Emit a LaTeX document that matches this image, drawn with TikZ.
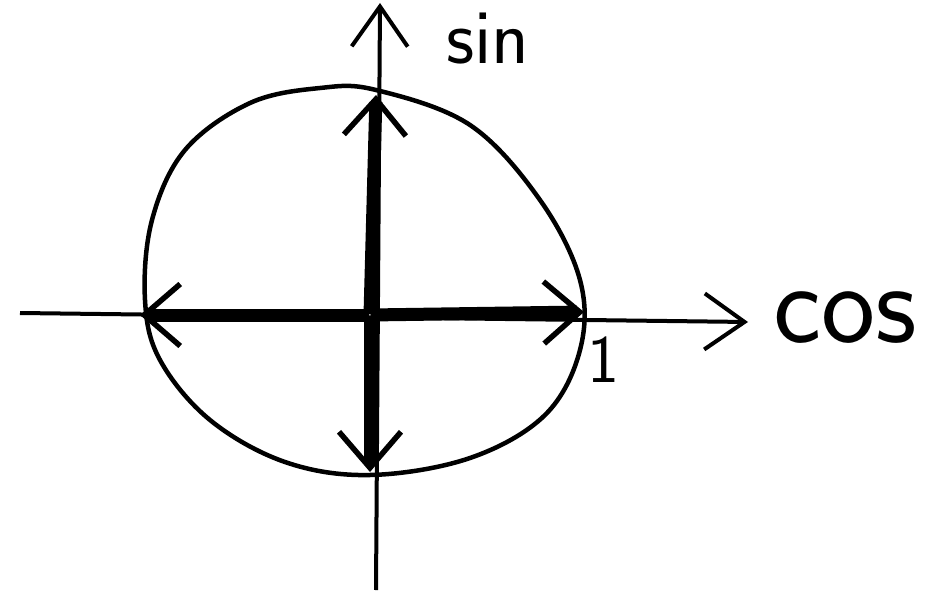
\documentclass[tikz,border=0pt]{standalone}
\usepackage{tikz}
\usetikzlibrary{arrows.meta}

\begin{document}
\begin{tikzpicture}[
    x=1pt, y=-1pt,
    axis/.style={line width=4pt, -{Straight Barb[length=40pt,width=56pt,line width=4pt]}},
    vec/.style={line width=13pt, -{Straight Barb[length=36pt,width=62pt,line width=5.5pt]}},
    curve/.style={line width=4.5pt},
    lbl/.style={font=\fontsize{115}{115}\selectfont\sffamily},
]
\useasboundingbox (0,0) rectangle (948,594);

% origin and tips
\node[inner sep=0pt] (o) at (370,315) {};
\coordinate (p1) at (584,312);
\coordinate (p2) at (376,95);
\coordinate (p3) at (140,315);
\coordinate (p4) at (370,472);

% axes
\coordinate (xl) at (20,313);
\coordinate (xr) at (748,322);
\coordinate (yb) at (376,590);
\coordinate (yt) at (380,3);
\draw[axis] (xl) -- (xr);
\draw[axis] (yb) -- (yt);

% circle
\draw[curve] plot[smooth cycle, tension=0.6] coordinates {
    (376,90) (470,125) (540,200) (580,280) (580,350) (545,415)
    (470,458) (370,475) (285,462) (210,420) (160,360) (145,300)
    (152,220) (185,150) (250,103) (320,88)};

% vectors
\draw[vec] (o) -- (p1);
\draw[vec] (o) -- (p2);
\draw[vec] (o) -- (p3);
\draw[vec] (o) -- (p4);

% labels
\node[lbl] (cos) at (845,318) {cos};
\node[font=\fontsize{68}{68}\selectfont\sffamily] (one) at (603,360) {1};
\node[font=\fontsize{78}{78}\selectfont\sffamily, anchor=north west, inner sep=1pt] (sin) at (445,12) {sin};
\end{tikzpicture}
\end{document}
